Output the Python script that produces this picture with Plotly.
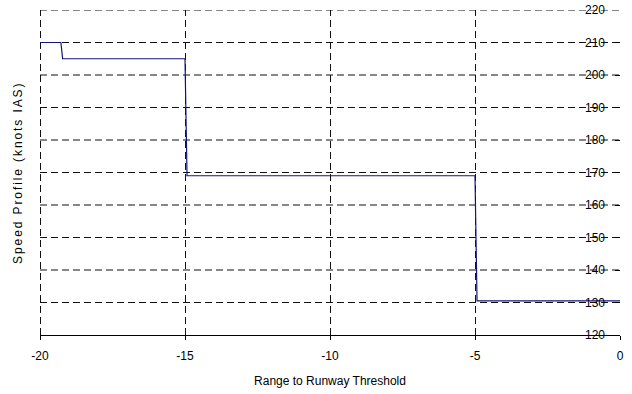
import plotly.graph_objects as go

# Speed profile vs. range to runway threshold
range_nm = [-20, -19.28, -19.22, -15.0, -14.93, -5.0, -4.93, 0]
speed_kts = [210, 210, 205, 205, 169, 169, 130.5, 130.5]

x_ticks = [-20, -15, -10, -5, 0]
y_ticks = [120, 130, 140, 150, 160, 170, 180, 190, 200, 210, 220]

font_family = "Liberation Sans, Arial, sans-serif"
grid_color = "#111111"
grid_dash = "7px,4px"

fig = go.Figure()
fig.add_trace(go.Scatter(
    x=range_nm, y=speed_kts, mode="lines",
    line=dict(color="#141478", width=1.2),
    showlegend=False, hoverinfo="skip",
))

shapes = []
# Dashed grid, including the outer edges of the plot area
# (vertical lines nudged half a pixel so they render crisp)
for xv in x_ticks[:-1]:
    shapes.append(dict(type="line", xref="x", yref="paper", xsizemode="pixel", xanchor=xv,
                       x0=0.5, x1=0.5, y0=0, y1=1,
                       line=dict(color=grid_color, width=1, dash=grid_dash), layer="below"))
for yv in y_ticks[1:]:
    shapes.append(dict(type="line", xref="paper", yref="y", x0=0, x1=1, y0=yv, y1=yv,
                       line=dict(color=grid_color, width=1, dash=grid_dash), layer="below"))
# Solid axis lines: bottom and right
shapes.append(dict(type="line", xref="paper", yref="paper", ysizemode="pixel", yanchor=0,
                   x0=0, x1=1, y0=-0.5, y1=-0.5,
                   line=dict(color="black", width=1)))
shapes.append(dict(type="line", xref="x", yref="paper", xsizemode="pixel", xanchor=x_ticks[-1],
                   x0=0.5, x1=0.5, y0=0, y1=1,
                   line=dict(color="black", width=1)))

fig.update_layout(
    width=632, height=394,
    margin=dict(l=40, r=8, t=10, b=56),
    paper_bgcolor="white", plot_bgcolor="white",
    font=dict(family=font_family, size=12, color="black"),
    shapes=shapes,
    xaxis=dict(
        range=[-20, 0], tickvals=x_ticks, ticktext=[str(v) for v in x_ticks],
        showgrid=False, showline=False, zeroline=False,
        ticks="outside", ticklen=4, tickcolor="black",
        ticklabelstandoff=6,
        title=dict(text="Range to Runway Threshold", font=dict(size=12), standoff=14),
        tickfont=dict(size=12),
    ),
    yaxis=dict(
        range=[120, 220], tickvals=y_ticks, side="right",
        showgrid=False, showline=False, zeroline=False,
        ticks="inside", ticklen=5, tickcolor="black",
        showticklabels=False,
    ),
)

# Y tick labels sit just inside the right axis
for yv in y_ticks:
    fig.add_annotation(
        text=str(yv), xref="paper", yref="y", x=1, y=yv,
        xanchor="right", yanchor="middle", xshift=-13, showarrow=False,
        font=dict(family=font_family, size=12, color="black"),
    )

# Axis title on the left edge
fig.add_annotation(
    text='<span style="letter-spacing:1.9px">Speed Profile (knots IAS)</span>',
    textangle=-90,
    xref="paper", yref="paper", x=-0.039, y=0.5,
    xanchor="center", yanchor="middle", showarrow=False,
    font=dict(family=font_family, size=12, color="black"),
)

fig.write_html("out.html")
